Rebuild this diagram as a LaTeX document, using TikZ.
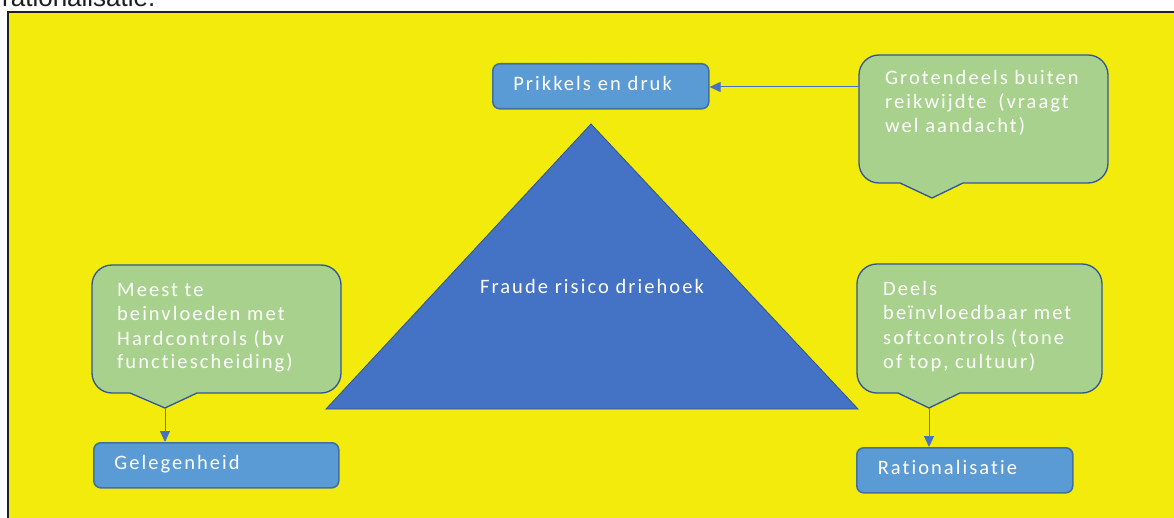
\documentclass[tikz,border=0pt]{standalone}
\usepackage{fontspec}
\usetikzlibrary{arrows.meta}
\newfontfamily\shapefont[LetterSpace=10,Ligatures=NoCommon]{Carlito}
\newfontfamily\pagefont{Liberation Sans}

\definecolor{bgyellow}{RGB}{243,235,12}
\definecolor{boxblue}{RGB}{91,155,213}
\definecolor{boxedge}{RGB}{65,113,156}
\definecolor{notegreen}{RGB}{169,209,142}
\definecolor{noteedge}{RGB}{47,85,151}
\definecolor{triblue}{RGB}{68,114,196}
\definecolor{triedge}{RGB}{47,82,143}
\definecolor{linkblue}{RGB}{68,114,196}
\definecolor{frameink}{RGB}{35,31,32}
\definecolor{pageink}{RGB}{30,30,30}

\tikzset{
  shapetext/.style={font=\shapefont\fontsize{20.5}{24}\selectfont, text=white},
  tagbox/.style={shapetext, rectangle, rounded corners=7, fill=boxblue,
    draw=boxedge, line width=1.6, anchor=north west, minimum height=45,
    text height=13, text depth=4, align=left, inner ysep=0},
  noteshape/.style={fill=notegreen, draw=noteedge, line width=1.3},
  notetext/.style={shapetext, anchor=base west, inner sep=0},
  link/.style={draw=linkblue, line width=1, -{Triangle[length=11,width=10]}},
}

% speech bubble: body corners (x1,y1)-(x2,y2), pointer base p1..p2 on the bottom edge, tip (tx,ty)
\newcommand\bubble[8]{%
  \path[noteshape] (#7,#4) -- ({#3-20},#4) arc (90:0:20)
    -- (#3,{#2+20}) arc (0:-90:20)
    -- ({#1+20},#2) arc (-90:-180:20)
    -- (#1,{#4-20}) arc (180:90:20)
    -- (#5,#4) -- (#6,#8) -- cycle;}

\begin{document}
\begin{tikzpicture}[x=1pt,y=-1pt]
  \useasboundingbox (0,0) rectangle (1174,518);
  \clip (0,0) rectangle (1174,518);
  \fill[white] (0,0) rectangle (1174,518);

  % last line of the page text above the figure
  \node[font=\pagefont\fontsize{26}{30}\selectfont, text=pageink,
        anchor=base west, inner sep=0] (pageline) at (2,7) {rationalisatie.};

  % figure background with its frame
  \fill[bgyellow] (8,12) rectangle (1190,530);
  \draw[frameink, line width=1.8] (8.2,530) -- (8.2,11.8) -- (1190,11.8);

  % fraud triangle
  \draw[fill=triblue, draw=triedge, line width=0.8] (591,124) -- (858,409) -- (326,409) -- cycle;
  \node[shapetext, inner sep=0] (tri) at (592,286) {Fraude risico driehoek};

  % the three corners of the triangle
  \node[tagbox, minimum width=216, text width=175, inner xsep=20] (pk) at (492,63) {Prikkels en druk};
  \node[tagbox, minimum width=245, text width=204, inner xsep=20] (gel) at (93,442) {Gelegenheid};
  \node[tagbox, minimum width=216, text width=174, inner xsep=21] (rat) at (856,447) {Rationalisatie};

  % remarks
  \bubble{859}{55}{1108}{183}{900}{932}{963}{198}
  \coordinate (tipTR) at (932,198);
  \coordinate (trW) at (859,87);
  \node[notetext] (noteTR) at (885,85) {\vtop{\baselineskip=24pt
      \hbox{Grotendeels buiten}\hbox{reikwijdte \hspace{5pt}(vraagt}\hbox{wel aandacht)}}};

  \bubble{92}{265}{341}{393}{130}{165}{197}{408}
  \coordinate (tipL) at (165,408);
  \node[notetext] (noteL) at (117,297) {\vtop{\baselineskip=24pt
      \hbox{Meest te}\hbox{beinvloeden met}\hbox{Hardcontrols (bv}\hbox{functiescheiding)}}};

  \bubble{857}{264}{1102}{393}{898}{929}{960}{408}
  \coordinate (tipR) at (929,408);
  \node[notetext] (noteR) at (883,296) {\vtop{\baselineskip=24pt
      \hbox{Deels}\hbox{beïnvloedbaar met}\hbox{softcontrols (tone}\hbox{of top, cultuur)}}};

  % connectors
  \draw[link] (trW) -- (trW -| pk.east);
  \draw[link] (tipL) -- (tipL |- gel.north);
  \draw[link] (tipR) -- (tipR |- rat.north);
\end{tikzpicture}
\end{document}
